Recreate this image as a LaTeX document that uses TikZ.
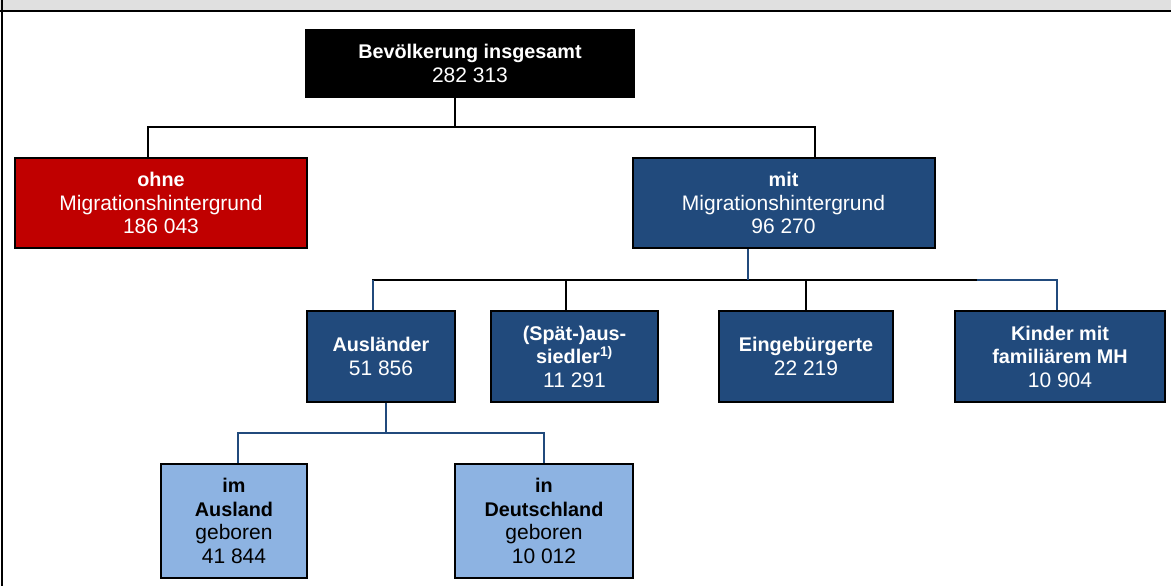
\documentclass[tikz,border=0pt]{standalone}
\usepackage{fontspec}
\setmainfont{Liberation Sans}
\definecolor{dblue}{HTML}{214A7C}
\definecolor{lblue}{HTML}{8DB3E2}
\definecolor{dred}{HTML}{C00000}
\definecolor{hgray}{HTML}{E0E0E0}
\newcommand\hb[1]{{\fontsize{19.8}{23.5}\selectfont\bfseries #1}}
\begin{document}
\begin{tikzpicture}[x=1pt,y=-1pt,
  box/.style={draw=black, line width=2pt, inner sep=0pt, align=center,
    font=\fontsize{21}{23.5}\selectfont, text=white},
  topbox/.style={box, fill=black},
  redbox/.style={box, fill=dred},
  bluebox/.style={box, fill=dblue},
  lightbox/.style={box, fill=lblue, text=black},
  conn/.style={line width=1.8pt, draw=black},
  bconn/.style={line width=1.8pt, draw=dblue}]
\useasboundingbox (0,0) rectangle (1171,586);
% frame / header
\fill[hgray] (0,0) rectangle (1171,10);
\draw[line width=2pt] (0,11) -- (1171,11);
\draw[line width=2pt] (1.5,0) -- (1.5,586);
% nodes
\node[topbox, minimum width=328pt, minimum height=67pt] (top) at (470,63.5)
  {\hb{Bevölkerung insgesamt}\\282 313};
\node[redbox, minimum width=292pt, minimum height=90pt] (ohne) at (161,203)
  {\hb{ohne}\\Migrationshintergrund\\186 043};
\node[bluebox, minimum width=302pt, minimum height=90pt] (mit) at (783.5,203)
  {\hb{mit}\\Migrationshintergrund\\96 270};
\node[bluebox, minimum width=148pt, minimum height=91pt] (ausl) at (381,356.5)
  {\hb{Ausländer}\\51 856};
\node[bluebox, minimum width=167pt, minimum height=91pt] (spaet) at (574.5,356.5)
  {\hb{(Spät-)aus-}\\\hb{siedler\textsuperscript{1)}}\\11 291};
\node[bluebox, minimum width=174pt, minimum height=91pt] (einb) at (806,356.5)
  {\hb{Eingebürgerte}\\22 219};
\node[bluebox, minimum width=210pt, minimum height=91pt] (kind) at (1060,356.5)
  {\hb{Kinder mit}\\\hb{familiärem MH}\\10 904};
\node[lightbox, minimum width=146pt, minimum height=114pt] (imaus) at (234,521)
  {\hb{im}\\\hb{Ausland}\\geboren\\41 844};
\node[lightbox, minimum width=178pt, minimum height=114pt] (inde) at (544,521)
  {\hb{in}\\\hb{Deutschland}\\geboren\\10 012};
% bus coordinates
\coordinate (b1) at (455,127);
\coordinate (b2) at (748,280);
\coordinate (b2r) at (977,280);
\coordinate (b3) at (386,433);
\coordinate (sp) at ([xshift=-8.5pt]spaet.north);
% level 1
\draw[conn] (b1 |- top.south) -- (b1);
\draw[conn] ([xshift=-13pt]ohne.north) |- (b1) -| ([xshift=31.5pt]mit.north);
% level 2
\draw[conn] ([xshift=-8pt]ausl.north) |- (b2r);
\draw[conn] (sp) -- (sp |- b2);
\draw[conn] (einb.north) -- (einb.north |- b2);
\draw[bconn] (b2 |- mit.south) -- (b2);
\draw[bconn] ([xshift=-8pt]ausl.north) -- ([xshift=-8pt]ausl.north |- b2);
\draw[bconn] (b2r) -| ([xshift=-3pt]kind.north);
% level 3
\draw[bconn] (b3 |- ausl.south) -- (b3);
\draw[bconn] ([xshift=4pt]imaus.north) |- (b3) -| (inde.north);
\end{tikzpicture}
\end{document}
